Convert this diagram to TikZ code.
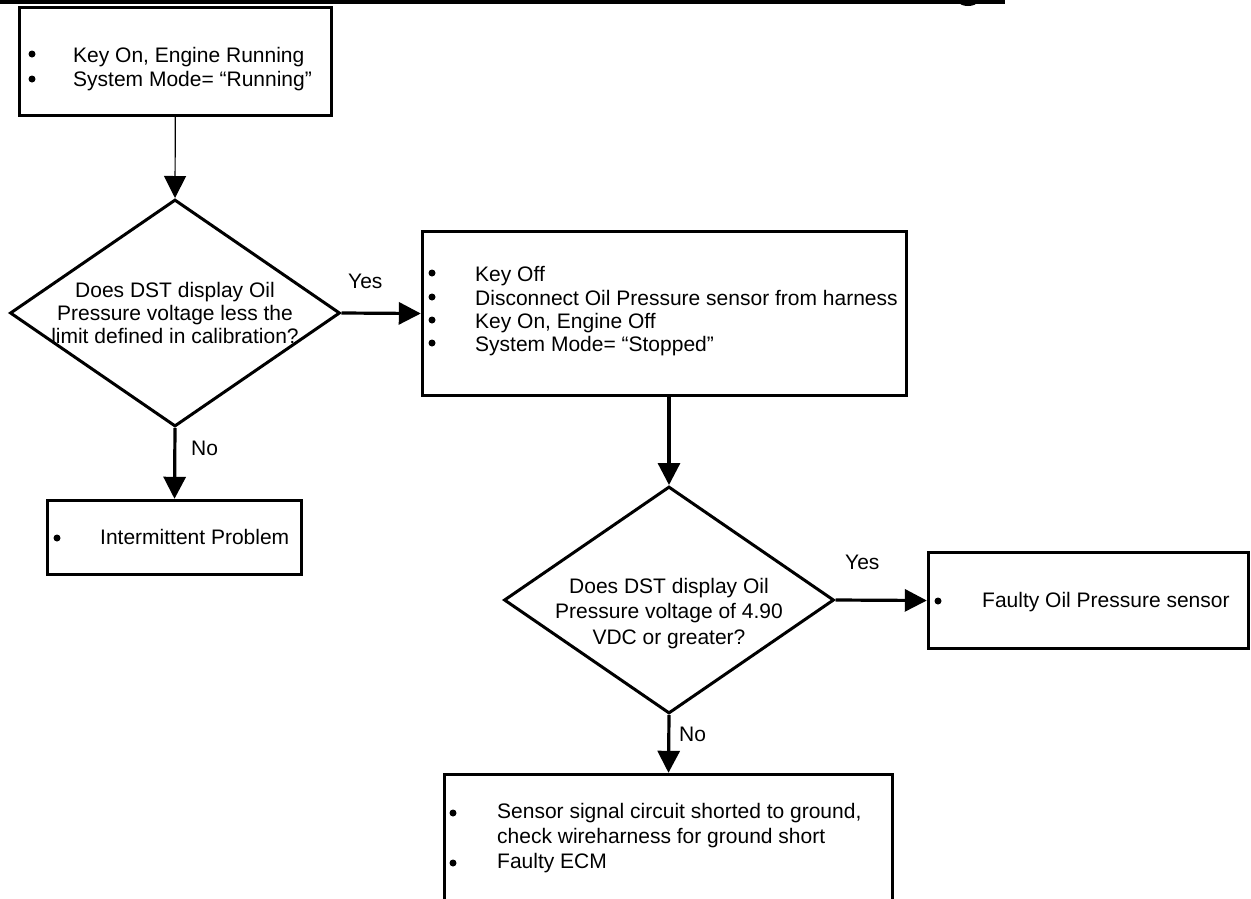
\documentclass[tikz,border=0pt]{standalone}
\usepackage{fontspec}
\setmainfont{Liberation Sans}
\usetikzlibrary{arrows.meta, shapes.geometric}

\begin{document}
\begin{tikzpicture}[x=1pt, y=-1pt, >={Triangle[length=22pt, width=22pt]},
    box/.style={draw, rectangle, line width=3.4pt, inner sep=0pt},
    test/.style={draw, diamond, line width=3pt, inner sep=0pt,
        minimum width=330pt, minimum height=227pt},
    txt/.style={inner sep=0pt, anchor=base west, align=left},
    flow/.style={->, line width=3.2pt}]
    \useasboundingbox (0, 0) rectangle (1251, 898);
    \clip (0, 0) rectangle (1251, 898);
    % rule along the top edge
    \fill (0, 0) rectangle (1005, 3.5);
    \fill (968, 2) ellipse [x radius=9pt, y radius=4pt];

    % boxes and decisions
    \node[box, minimum width=312pt, minimum height=108pt] (start) at (175.5, 61.5) {};
    \node[test] (q1) at (175, 313) {};
    \node[box, minimum width=484pt, minimum height=164pt] (act) at (664.5, 313.5) {};
    \node[box, minimum width=254pt, minimum height=74pt] (intm) at (174.5, 537.5) {};
    \node[test] (q2) at (669, 600) {};
    \node[box, minimum width=320pt, minimum height=96pt] (sens) at (1088.5, 600.5) {};
    \node[box, minimum width=448pt, minimum height=145pt] (ecm) at (668.5, 847) {};

    % texts (base = baseline of the last line)
    \node[txt, font=\fontsize{21}{24}\selectfont] (startT) at (73, 86)
        {Key On, Engine Running\\System Mode= “Running”};
    \node[txt, anchor=base, align=center, font=\fontsize{21}{23}\selectfont] (q1T) at (175, 343)
        {Does DST display Oil\\Pressure voltage less the\\limit defined in calibration?};
    \node[txt, font=\fontsize{21}{23.3}\selectfont] (actT) at (475, 351.6)
        {Key Off\\Disconnect Oil Pressure sensor from harness\\Key On, Engine Off\\System Mode= “Stopped”};
    \node[txt, font=\fontsize{21}{24}\selectfont] (intmT) at (100, 544) {Intermittent Problem};
    \node[txt, anchor=base, align=center, font=\fontsize{21}{25.5}\selectfont] (q2T) at (669, 644)
        {Does DST display Oil\\Pressure voltage of 4.90\\VDC or greater?};
    \node[txt, font=\fontsize{21}{24}\selectfont] (sensT) at (982, 607) {Faulty Oil Pressure sensor};
    \node[txt, font=\fontsize{21}{25}\selectfont] (ecmT) at (497, 868)
        {Sensor signal circuit shorted to ground,\\check wireharness for ground short\\Faulty ECM};

    % bullets
    \fill (32, 54) circle (3.5pt);
    \fill (32, 79) circle (3.5pt);
    \fill (432, 273) circle (3.5pt);
    \fill (432, 297) circle (3.5pt);
    \fill (432, 320) circle (3.5pt);
    \fill (432, 343) circle (3.5pt);
    \fill (57, 538) circle (3.5pt);
    \fill (938, 601) circle (3.5pt);
    \fill (453, 813) circle (3.5pt);
    \fill (453, 863) circle (3.5pt);

    % arrows
    \draw[->, line width=1.2pt] (start) -- (q1.north);
    \draw[flow] (q1.east) -- (act.west);
    \draw[flow] (q1.south) -- (intm.north);
    \draw[flow] (q2.north |- act.south) -- (q2.north);
    \draw[flow] (q2.east) -- (sens.west);
    \draw[flow] (q2.south) -- (ecm.north);
    \node[txt, font=\fontsize{21}{24}\selectfont] (yes1) at (348, 288) {Yes};
    \node[txt, font=\fontsize{21}{24}\selectfont] (no1) at (191, 455.7) {No};
    \node[txt, font=\fontsize{21}{24}\selectfont] (yes2) at (845, 569) {Yes};
    \node[txt, font=\fontsize{21}{24}\selectfont] (no2) at (679, 741.7) {No};
\end{tikzpicture}
\end{document}
